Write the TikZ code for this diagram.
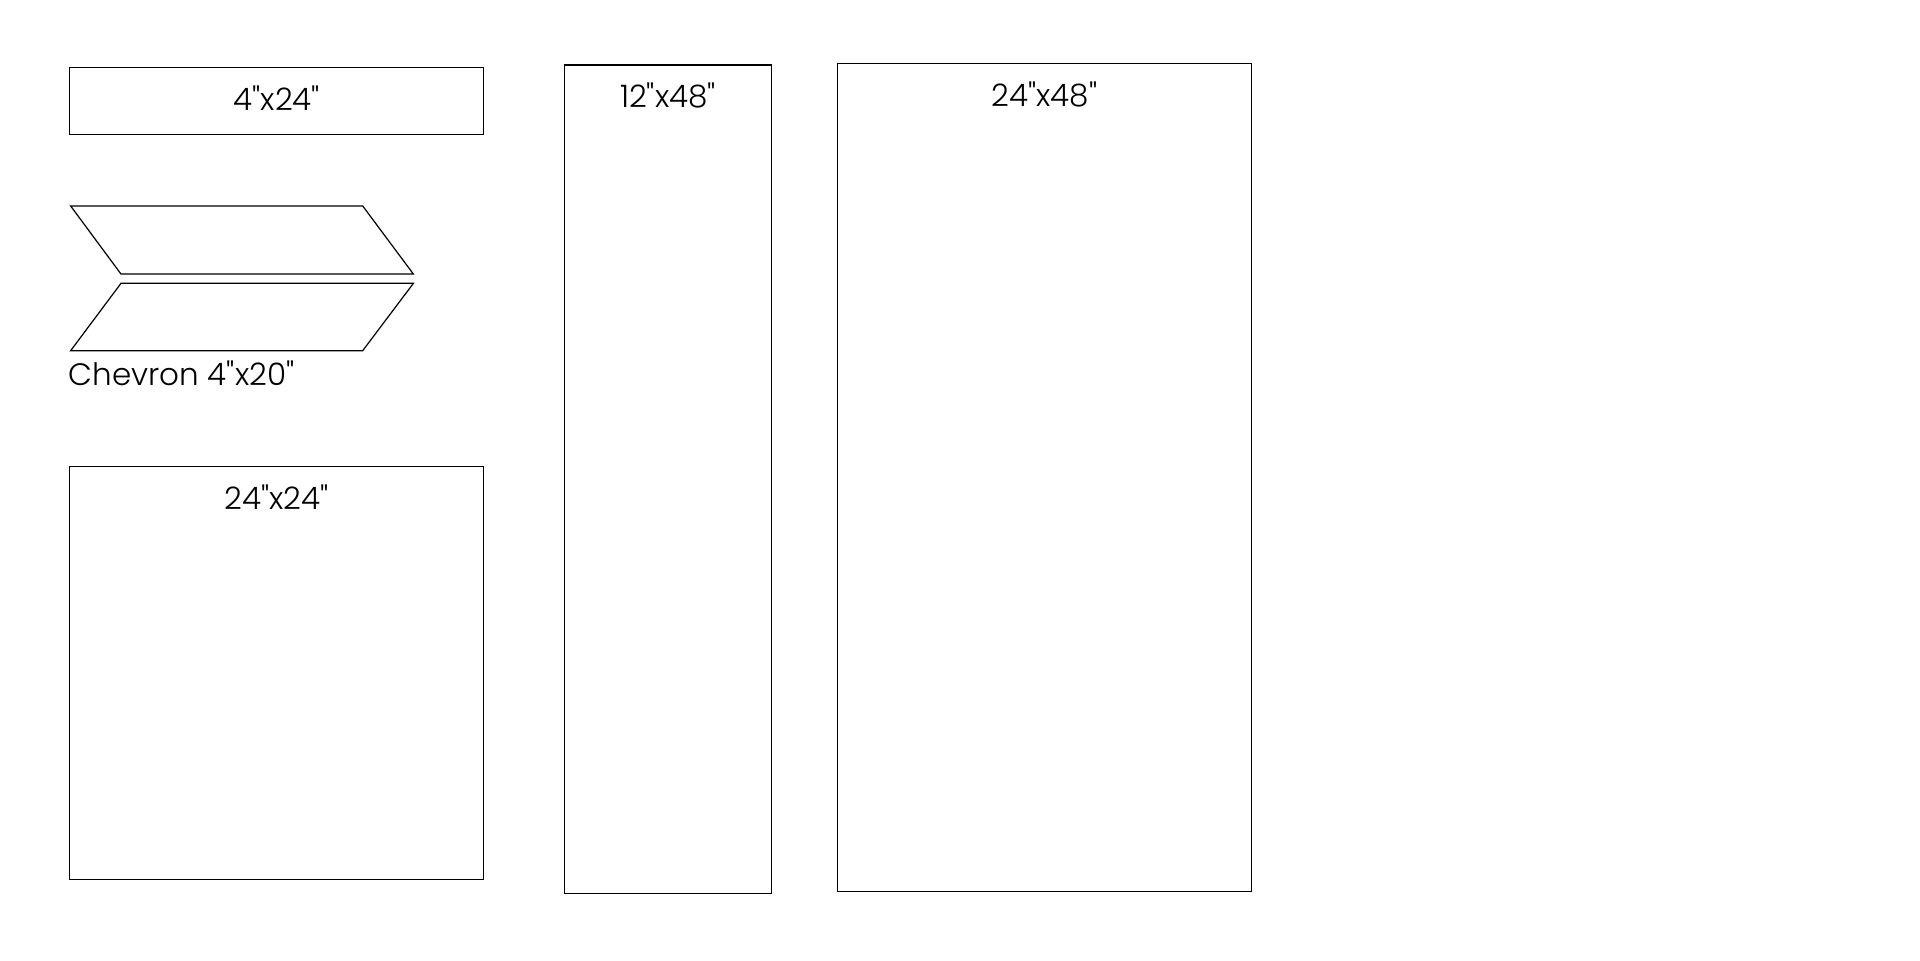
\documentclass[tikz,border=0pt]{standalone}
\usepackage{fontspec}
\newfontfamily\tilefont{Poppins Light}
\begin{document}
\begin{tikzpicture}[x=0.25mm,y=-0.25mm,
 tile/.style={draw=black,line width=0.7pt,line join=miter},
 tag/.style={font=\tilefont\fontsize{18}{20}\selectfont,inner sep=0pt}]
\useasboundingbox (0,0) rectangle (1568,784);
% plain tiles: name/left/top/right/bottom/label
\foreach \n/\xa/\ya/\xb/\yb/\t in {
 small/57/55/395/110/4"x24",
 square/57/381/395/718/24"x24",
 narrow/461/53/630/730/12"x48",
 large/684/52/1022/728/24"x48"}
{\draw[tile] (\xa,\ya) rectangle (\xb,\yb);
 \node[tag] (\n) at ({(\xa+\xb)/2},{\ya+25}) {\t};
}
% chevron pair
\draw[tile] (57.7,168.2) -- (296.2,168.2) -- (337.6,223.8) -- (98.8,223.8) -- cycle;
\draw[tile] (98.8,231.4) -- (337.6,231.4) -- (296.2,286.4) -- (57.7,286.4) -- cycle;
\node[tag,anchor=west] (chevron) at (56,305) {Chevron 4"x20"};
\end{tikzpicture}
\end{document}
